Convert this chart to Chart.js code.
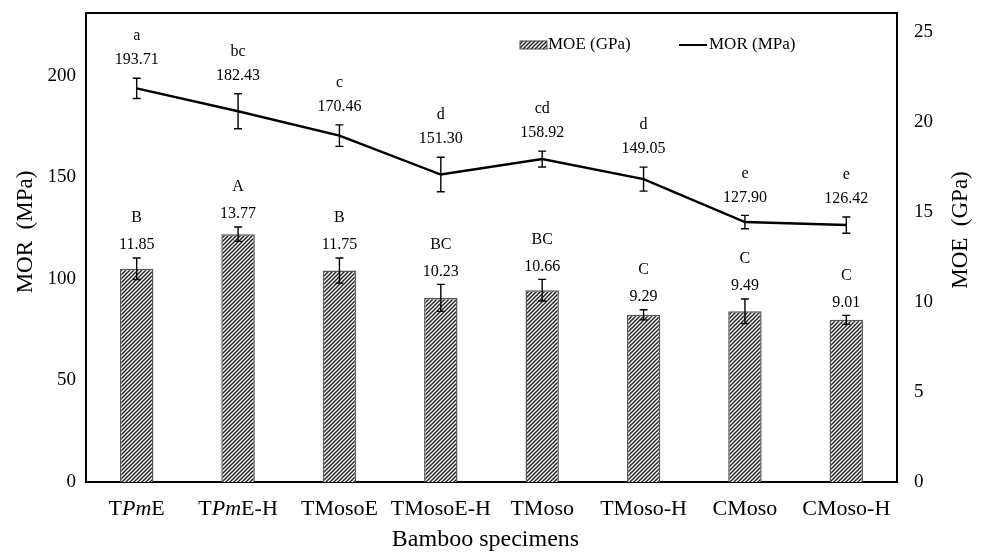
<!DOCTYPE html>
<html>
<head>
<meta charset="utf-8">
<script src="https://cdn.jsdelivr.net/npm/chart.js@4.4.1/dist/chart.umd.min.js"></script>
<style>
  html, body { margin: 0; padding: 0; background: #ffffff; }
  #wrap { width: 984px; height: 553px; }
</style>
</head>
<body>
<div id="wrap"><canvas id="c" width="984" height="553"></canvas></div>
<script>
// ---- data ----
const categories = ['TPmE', 'TPmE-H', 'TMosoE', 'TMosoE-H', 'TMoso', 'TMoso-H', 'CMoso', 'CMoso-H'];
const morValues = [193.71, 182.43, 170.46, 151.30, 158.92, 149.05, 127.90, 126.42];
const morErrors = [5.0, 8.6, 5.3, 8.5, 3.9, 5.9, 3.3, 4.0];
const morLetters = ['a', 'bc', 'c', 'd', 'cd', 'd', 'e', 'e'];
const moeValues = [11.85, 13.77, 11.75, 10.23, 10.66, 9.29, 9.49, 9.01];
const moeErrors = [0.6, 0.4, 0.7, 0.75, 0.6, 0.28, 0.68, 0.25];
const moeLetters = ['B', 'A', 'B', 'BC', 'BC', 'C', 'C', 'C'];
const morTicks = [0, 50, 100, 150, 200];
const moeTicks = [0, 5, 10, 15, 20, 25];
const morLabel = 'MOR (MPa)';
const moeLabel = 'MOE (GPa)';
const morTitle = 'MOR  (MPa)';
const moeTitle = 'MOE  (GPa)';
const xTitle = 'Bamboo specimens';

const SERIF = '"Liberation Serif", "Times New Roman", serif';

// hatch pattern
function makeHatch() {
  const p = document.createElement('canvas');
  p.width = 4; p.height = 4;
  const g = p.getContext('2d');
  g.fillStyle = '#ffffff';
  g.fillRect(0, 0, 4, 4);
  g.strokeStyle = '#262626';
  g.lineWidth = 1.5;
  g.beginPath();
  g.moveTo(-1, 5); g.lineTo(5, -1);
  g.moveTo(-1, 1); g.lineTo(1, -1);
  g.moveTo(3, 5); g.lineTo(5, 3);
  g.stroke();
  return g.createPattern(p, 'repeat');
}
const hatch = makeHatch();

function drawRich(ctx, label, cx, cy, size) {
  // italicise "Pm"
  const parts = [];
  const idx = label.indexOf('Pm');
  if (idx >= 0) {
    parts.push([label.slice(0, idx), false]);
    parts.push(['Pm', true]);
    parts.push([label.slice(idx + 2), false]);
  } else {
    parts.push([label, false]);
  }
  let total = 0;
  parts.forEach(p => {
    ctx.font = (p[1] ? 'italic ' : '') + size + 'px ' + SERIF;
    p.push(ctx.measureText(p[0]).width);
    total += p[2];
  });
  let x = cx - total / 2;
  ctx.textAlign = 'left';
  ctx.textBaseline = 'middle';
  parts.forEach(p => {
    ctx.font = (p[1] ? 'italic ' : '') + size + 'px ' + SERIF;
    ctx.fillText(p[0], x, cy);
    x += p[2];
  });
}

const extras = {
  id: 'extras',
  afterDatasetsDraw(chart) {
    const ctx = chart.ctx;
    const xs = chart.scales.x;
    const yL = chart.scales.yMOR;
    const yR = chart.scales.yMOE;
    const area = chart.chartArea;
    ctx.save();
    ctx.fillStyle = '#000';
    ctx.strokeStyle = '#000';

    // error bars
    ctx.lineWidth = 1.4;
    const cap = 4;
    function errBar(x, v, e, scale) {
      const yt = scale.getPixelForValue(v + e);
      const yb = scale.getPixelForValue(v - e);
      ctx.beginPath();
      ctx.moveTo(x, yt); ctx.lineTo(x, yb);
      ctx.moveTo(x - cap, yt); ctx.lineTo(x + cap, yt);
      ctx.moveTo(x - cap, yb); ctx.lineTo(x + cap, yb);
      ctx.stroke();
      return yt;
    }
    ctx.textAlign = 'center';
    ctx.textBaseline = 'middle';
    categories.forEach((c, i) => {
      const x = xs.getPixelForValue(i);
      const t1 = errBar(x, moeValues[i], moeErrors[i], yR);
      const t2 = errBar(x, morValues[i], morErrors[i], yL);
      ctx.font = '16px ' + SERIF;
      ctx.fillText(moeValues[i].toFixed(2), x, t1 - 13);
      ctx.fillText(moeLetters[i], x, t1 - 40);
      ctx.fillText(morValues[i].toFixed(2), x, t2 - 18);
      ctx.fillText(morLetters[i], x, t2 - 42);
    });

    // top border
    ctx.lineWidth = 2;
    ctx.beginPath();
    ctx.moveTo(area.left - 1, area.top);
    ctx.lineTo(area.right + 1, area.top);
    ctx.stroke();

    // x tick labels with italics
    categories.forEach((c, i) => {
      drawRich(ctx, c, xs.getPixelForValue(i), 509, 22);
    });

    // axis titles
    ctx.font = '23px ' + SERIF;
    ctx.textAlign = 'center';
    ctx.textBaseline = 'middle';
    ctx.save();
    ctx.translate(26, 232);
    ctx.rotate(-Math.PI / 2);
    ctx.fillText(morTitle, 0, 0);
    ctx.restore();
    ctx.save();
    ctx.translate(961, 230);
    ctx.rotate(-Math.PI / 2);
    ctx.fillText(moeTitle, 0, 0);
    ctx.restore();
    ctx.font = '24px ' + SERIF;
    ctx.fillText(xTitle, (area.left + area.right) / 2 - 6, 540);

    // legend
    const lx = 520, ly = 45;
    ctx.fillStyle = hatch;
    ctx.fillRect(lx, ly - 4, 27, 8);
    ctx.strokeStyle = '#444';
    ctx.lineWidth = 1;
    ctx.strokeRect(lx, ly - 4, 27, 8);
    ctx.fillStyle = '#000';
    ctx.font = '17px ' + SERIF;
    ctx.textAlign = 'left';
    ctx.textBaseline = 'middle';
    ctx.fillText(moeLabel, lx + 28, ly);
    ctx.strokeStyle = '#000';
    ctx.lineWidth = 2;
    ctx.beginPath();
    ctx.moveTo(679, ly); ctx.lineTo(707, ly);
    ctx.stroke();
    ctx.fillText(morLabel, 709, ly);
    ctx.restore();
  }
};

function noPad(s) { s.paddingTop = 0; s.paddingBottom = 0; }

new Chart(document.getElementById('c'), {
  data: {
    labels: categories,
    datasets: [
      {
        type: 'line',
        label: morLabel,
        data: morValues,
        yAxisID: 'yMOR',
        borderColor: '#000',
        borderWidth: 2.5,
        pointRadius: 0,
        tension: 0,
        fill: false,
        order: 0
      },
      {
        type: 'bar',
        label: moeLabel,
        data: moeValues,
        yAxisID: 'yMOE',
        backgroundColor: hatch,
        borderColor: '#555555',
        borderWidth: 1.5,
        barPercentage: 0.33,
        categoryPercentage: 1.0,
        order: 1
      }
    ]
  },
  options: {
    responsive: false,
    animation: false,
    layout: { padding: { top: 13, left: 0, right: 0, bottom: 0 } },
    plugins: { legend: { display: false }, tooltip: { enabled: false } },
    scales: {
      x: {
        grid: { display: false, drawTicks: false },
        border: { display: true, color: '#000', width: 2 },
        ticks: { display: false },
        title: { display: false, text: xTitle },
        afterFit(s) { s.height = 71; s.paddingLeft = 0; s.paddingRight = 0; }
      },
      yMOR: {
        type: 'linear',
        position: 'left',
        min: 0,
        max: 230.8,
        grid: { display: false, drawTicks: false },
        border: { display: true, color: '#000', width: 2 },
        afterBuildTicks(s) { s.ticks = morTicks.map(v => ({ value: v })); },
        ticks: { color: '#000', padding: 10, font: { family: SERIF, size: 19 } },
        title: { display: false, text: morTitle },
        afterFit(s) { s.width = 86; noPad(s); }
      },
      yMOE: {
        type: 'linear',
        position: 'right',
        min: 0,
        max: 26.06,
        grid: { display: false, drawTicks: false },
        border: { display: true, color: '#000', width: 2 },
        afterBuildTicks(s) { s.ticks = moeTicks.map(v => ({ value: v })); },
        ticks: { color: '#000', padding: 17, font: { family: SERIF, size: 19 } },
        title: { display: false, text: moeTitle },
        afterFit(s) { s.width = 87; noPad(s); }
      }
    }
  },
  plugins: [extras]
});
</script>
</body>
</html>
